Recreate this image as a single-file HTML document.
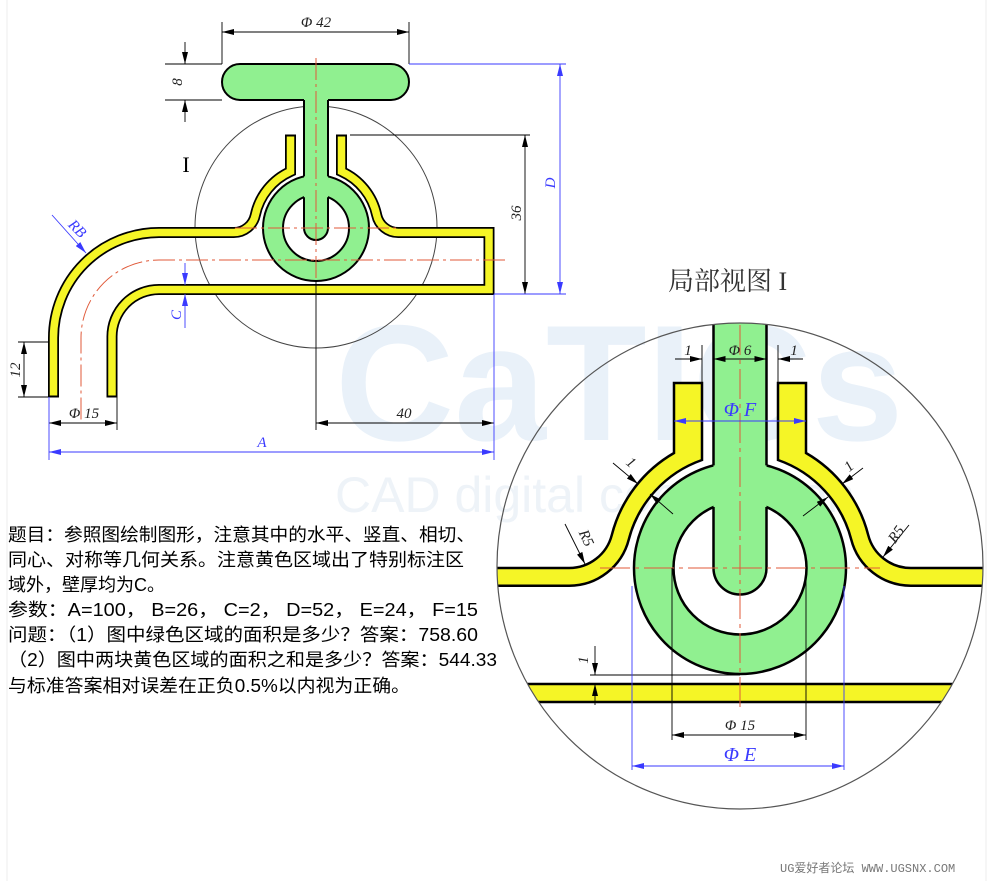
<!DOCTYPE html>
<html><head><meta charset="utf-8"><style>
html,body{margin:0;padding:0;background:#fff;}
svg{display:block;}
.d{font-family:"Liberation Serif",serif;font-style:italic;font-size:15px;}
.t{font-family:"Liberation Sans","Noto Sans CJK SC",sans-serif;font-size:18px;fill:#000;}
</style></head><body>
<svg width="989" height="881" viewBox="0 0 989 881" xmlns="http://www.w3.org/2000/svg">
<defs>
<marker id="a" viewBox="0 0 12 6" refX="12" refY="3" markerWidth="12" markerHeight="6" markerUnits="userSpaceOnUse" orient="auto-start-reverse"><path d="M0,0 L12,3 L0,6 Z" fill="#000"/></marker>
<marker id="b" viewBox="0 0 12 6" refX="12" refY="3" markerWidth="12" markerHeight="6" markerUnits="userSpaceOnUse" orient="auto-start-reverse"><path d="M0,0 L12,3 L0,6 Z" fill="#3a3aff"/></marker>
<clipPath id="cc"><circle cx="740" cy="566" r="243"/></clipPath>
</defs>
<rect width="989" height="881" fill="#fff"/>
<line x1="7" y1="0" x2="7" y2="881" stroke="#eee"/>
<line x1="986" y1="0" x2="986" y2="881" stroke="#eee"/>
<!-- watermark -->
<text x="335" y="440" font-family="Liberation Sans,sans-serif" font-weight="bold" font-size="165" fill="#e9f1f9">CaTICs</text>
<text x="335" y="512" font-family="Liberation Sans,sans-serif" font-size="50" fill="#eef3f8">CAD digital competition</text>

<!-- ===== MAIN VIEW ===== -->
<!-- big detail circle -->
<circle cx="316" cy="227" r="121" fill="none" stroke="#444" stroke-width="1"/>
<!-- handle -->
<rect x="222" y="64" width="187" height="36" rx="18" fill="#90f090" stroke="#000" stroke-width="2"/>
<!-- ring -->
<circle cx="316" cy="228" r="53" fill="#90f090" stroke="#000" stroke-width="2"/>
<circle cx="316" cy="228" r="33" fill="#fff" stroke="#000" stroke-width="2"/>
<path d="M304,99 V228 A12,12 0 0 0 328,228 V99 Z" fill="#90f090"/>
<path d="M304,100 V176.4 M328,100 V176.4 M304,197.3 V228 A12,12 0 0 0 328,228 V197.3" fill="none" stroke="#000" stroke-width="2"/>
<!-- pipe walls -->
<g fill="none" stroke-linejoin="miter">
<path d="M53.5,397 V338 A105.5,105.5 0 0 1 159,232.5 H233.8 A22,22 0 0 0 255.3,215.1 A62,62 0 0 1 290.5,171.5 V135" stroke="#000" stroke-width="11"/>
<path d="M53.5,397 V338 A105.5,105.5 0 0 1 159,232.5 H233.8 A22,22 0 0 0 255.3,215.1 A62,62 0 0 1 290.5,171.5 V135" stroke="#f5f526" stroke-width="7.5"/>
<path d="M341.5,135 V171.5 A62,62 0 0 1 376.7,215.1 A22,22 0 0 0 398.2,232.5 H489 V289.5 H159 A47,47 0 0 0 112,336.5 V397" stroke="#000" stroke-width="11"/>
<path d="M341.5,135 V171.5 A62,62 0 0 1 376.7,215.1 A22,22 0 0 0 398.2,232.5 H489 V289.5 H159 A47,47 0 0 0 112,336.5 V397" stroke="#f5f526" stroke-width="7.5"/>
</g>
<g stroke="#000" stroke-width="2">
<line x1="48" y1="396.5" x2="59" y2="396.5"/><line x1="106.5" y1="396.5" x2="117.5" y2="396.5"/>
<line x1="285" y1="135.5" x2="296" y2="135.5"/><line x1="336" y1="135.5" x2="347" y2="135.5"/>
</g>
<!-- centerlines -->
<g stroke="#e05a3a" stroke-width="1" fill="none" stroke-dasharray="22,4,3,4">
<line x1="316" y1="58" x2="316" y2="282"/>
<line x1="235" y1="228" x2="400" y2="228"/>
<path d="M505,260 H159 A78,78 0 0 0 81,338 V420"/>
</g>
<!-- dims black -->
<g stroke="#000" stroke-width="0.9" fill="none">
<line x1="222" y1="22" x2="222" y2="64"/><line x1="409" y1="22" x2="409" y2="64"/>
<line x1="222" y1="32" x2="409" y2="32" marker-start="url(#a)" marker-end="url(#a)"/>
<line x1="165" y1="64" x2="222" y2="64"/><line x1="165" y1="100" x2="222" y2="100"/>
<line x1="185" y1="42" x2="185" y2="64" marker-end="url(#a)"/><line x1="185" y1="122" x2="185" y2="100" marker-end="url(#a)"/>
<line x1="350" y1="135" x2="530" y2="135"/><line x1="494" y1="294" x2="530" y2="294"/>
<line x1="525" y1="135" x2="525" y2="294" marker-start="url(#a)" marker-end="url(#a)"/>
<line x1="18" y1="342" x2="49" y2="342"/><line x1="18" y1="397" x2="49" y2="397"/>
<line x1="24" y1="342" x2="24" y2="397" marker-start="url(#a)" marker-end="url(#a)"/>
<line x1="117" y1="397" x2="117" y2="430"/>
<line x1="49" y1="423" x2="117" y2="423" marker-start="url(#a)" marker-end="url(#a)"/>
<line x1="316" y1="282" x2="316" y2="430"/>
<line x1="316" y1="423" x2="494" y2="423" marker-start="url(#a)" marker-end="url(#a)"/>
</g>
<!-- dims blue -->
<g stroke="#3a3aff" stroke-width="0.9" fill="none">
<line x1="409" y1="64" x2="566" y2="64"/><line x1="494" y1="294" x2="566" y2="294"/>
<line x1="560" y1="64" x2="560" y2="294" marker-start="url(#b)" marker-end="url(#b)"/>
<line x1="185" y1="263" x2="185" y2="285" marker-end="url(#b)"/><line x1="185" y1="328" x2="185" y2="294" marker-end="url(#b)"/>
<line x1="52" y1="215" x2="86" y2="253" marker-end="url(#b)"/>
<line x1="49" y1="397" x2="49" y2="460"/><line x1="494" y1="294" x2="494" y2="460"/>
<line x1="49" y1="452" x2="494" y2="452" marker-start="url(#b)" marker-end="url(#b)"/>
</g>
<g class="d" fill="#222">
<text x="316" y="27" text-anchor="middle">Φ 42</text>
<text x="0" y="0" transform="translate(182,82) rotate(-90)" text-anchor="middle">8</text>
<text x="0" y="0" transform="translate(521,213) rotate(-90)" text-anchor="middle">36</text>
<text x="0" y="0" transform="translate(20,370) rotate(-90)" text-anchor="middle">12</text>
<text x="84" y="418" text-anchor="middle">Φ 15</text>
<text x="404" y="418" text-anchor="middle">40</text>
</g>
<g class="d" fill="#3a3aff">
<text x="0" y="0" transform="translate(555,183) rotate(-90)" text-anchor="middle">D</text>
<text x="0" y="0" transform="translate(181,315) rotate(-90)" text-anchor="middle">C</text>
<text x="0" y="0" transform="translate(74,232) rotate(45)" text-anchor="middle">RB</text>
<text x="262" y="447" text-anchor="middle">A</text>
</g>
<text x="186" y="172" font-family="Liberation Serif,serif" font-size="22" text-anchor="middle">I</text>

<!-- ===== DETAIL ===== -->
<text x="668" y="290" font-family="Liberation Serif,'Noto Serif CJK SC',serif" font-size="26" fill="#333">局部视图 I</text>
<g clip-path="url(#cc)">
<rect x="490" y="684" width="500" height="18" fill="#f5f526" stroke="#000" stroke-width="2.5"/>
<path d="M674,383 L674,453 A132.4,132.4 0 0 0 611.8,535 A44,44 0 0 1 569.2,568 L480,568 L480,585.7 L569.2,585.7 A61.7,61.7 0 0 0 628.8,539.4 A114.8,114.8 0 0 1 702,460 L702,383 Z" fill="#f5f526" stroke="#000" stroke-width="2.5"/>
<path d="M806,383 L806,453 A132.4,132.4 0 0 1 868.2,535 A44,44 0 0 0 910.8,568 L1000,568 L1000,585.7 L910.8,585.7 A61.7,61.7 0 0 1 851.2,539.4 A114.8,114.8 0 0 0 778,460 L778,383 Z" fill="#f5f526" stroke="#000" stroke-width="2.5"/>
<circle cx="740" cy="568" r="106" fill="#90f090" stroke="#000" stroke-width="2.5"/>
<circle cx="740" cy="568" r="66.5" fill="#fff" stroke="#000" stroke-width="2.5"/>
<path d="M713.5,300 V568 A26.5,26.5 0 0 0 766.5,568 V300 Z" fill="#90f090"/>
<path d="M713.5,300 V465.4 M766.5,300 V465.4 M713.5,507 V568 A26.5,26.5 0 0 0 766.5,568 V507" fill="none" stroke="#000" stroke-width="2.5"/>
<g stroke="#e05a3a" stroke-width="1" stroke-dasharray="30,5,4,5">
<line x1="740" y1="325" x2="740" y2="712"/>
<line x1="600" y1="568" x2="880" y2="568"/>
</g>
</g>
<circle cx="740" cy="566" r="243" fill="none" stroke="#555" stroke-width="1.2"/>
<!-- detail dims black -->
<g stroke="#000" stroke-width="0.9" fill="none">
<line x1="702" y1="345" x2="702" y2="383"/><line x1="778" y1="345" x2="778" y2="383"/>
<line x1="675" y1="359" x2="702" y2="359" marker-end="url(#a)"/><line x1="740" y1="359" x2="713.5" y2="359" marker-end="url(#a)"/>
<line x1="740" y1="359" x2="766.5" y2="359" marker-end="url(#a)"/><line x1="803" y1="359" x2="778" y2="359" marker-end="url(#a)"/>
<line x1="613" y1="463" x2="638" y2="484" marker-end="url(#a)"/><line x1="673" y1="514" x2="650" y2="494" marker-end="url(#a)"/>
<line x1="863" y1="468" x2="842" y2="484" marker-end="url(#a)"/><line x1="803" y1="516" x2="828" y2="497" marker-end="url(#a)"/>
<line x1="565" y1="524" x2="585" y2="564" marker-end="url(#a)"/>
<line x1="909" y1="525" x2="883" y2="557" marker-end="url(#a)"/>
<line x1="590" y1="675" x2="740" y2="675"/>
<line x1="595" y1="646" x2="595" y2="675" marker-end="url(#a)"/><line x1="595" y1="705" x2="595" y2="684" marker-end="url(#a)"/>
<line x1="672" y1="568" x2="672" y2="740"/><line x1="806" y1="568" x2="806" y2="740"/>
<line x1="672" y1="735" x2="806" y2="735" marker-start="url(#a)" marker-end="url(#a)"/>
</g>
<g stroke="#3a3aff" stroke-width="0.9" fill="none">
<line x1="674" y1="421" x2="806" y2="421" marker-start="url(#b)" marker-end="url(#b)"/>
<line x1="632" y1="586" x2="632" y2="770"/><line x1="844" y1="586" x2="844" y2="770"/>
<line x1="632" y1="766" x2="844" y2="766" marker-start="url(#b)" marker-end="url(#b)"/>
</g>
<g class="d" fill="#222">
<text x="688" y="355" text-anchor="middle">1</text>
<text x="740" y="355" text-anchor="middle">Φ 6</text>
<text x="794" y="355" text-anchor="middle">1</text>
<text x="0" y="0" transform="translate(628,466) rotate(40)" text-anchor="middle">1</text>
<text x="0" y="0" transform="translate(852,470) rotate(-40)" text-anchor="middle">1</text>
<text x="0" y="0" transform="translate(582,540) rotate(65)" text-anchor="middle">R5</text>
<text x="0" y="0" transform="translate(900,537) rotate(-55)" text-anchor="middle">R5</text>
<text x="0" y="0" transform="translate(588,660) rotate(-90)" text-anchor="middle">1</text>
<text x="740" y="730" text-anchor="middle">Φ 15</text>
</g>
<g class="d" fill="#3a3aff" font-size="20">
<text x="740" y="416" text-anchor="middle" font-size="20">Φ F</text>
<text x="740" y="761" text-anchor="middle" font-size="20">Φ E</text>
</g>

<!-- text block -->
<g class="t">
<text x="8" y="541" textLength="467" lengthAdjust="spacingAndGlyphs">题目：参照图绘制图形，注意其中的水平、竖直、相切、</text>
<text x="8" y="566" textLength="456" lengthAdjust="spacingAndGlyphs">同心、对称等几何关系。注意黄色区域出了特别标注区</text>
<text x="8" y="591">域外，壁厚均为C。</text>
<text x="8" y="616" textLength="470" lengthAdjust="spacingAndGlyphs">参数：A=100， B=26， C=2， D=52， E=24， F=15</text>
<text x="8" y="641" textLength="470" lengthAdjust="spacingAndGlyphs">问题：（1）图中绿色区域的面积是多少？答案：758.60</text>
<text x="8" y="666" textLength="489" lengthAdjust="spacingAndGlyphs">（2）图中两块黄色区域的面积之和是多少？答案：544.33</text>
<text x="8" y="692" textLength="402" lengthAdjust="spacingAndGlyphs">与标准答案相对误差在正负0.5%以内视为正确。</text>
</g>
<text x="780" y="872" font-family="Liberation Mono,'Noto Sans CJK SC',monospace" font-size="12" fill="#777">UG爱好者论坛 WWW.UGSNX.COM</text>
</svg>
</body></html>
